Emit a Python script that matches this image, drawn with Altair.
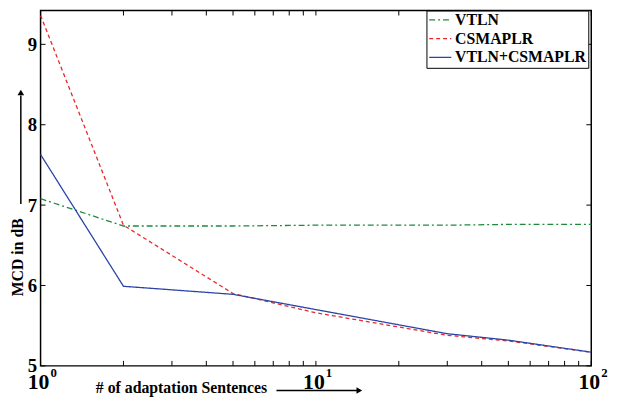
import altair as alt
import pandas as pd

# ---- data ----
sentences = [1, 2, 5, 10, 30, 50, 100]
vtln = [7.08, 6.74, 6.74, 6.75, 6.75, 6.76, 6.76]
csmaplr = [9.36, 6.75, 5.90, 5.66, 5.38, 5.31, 5.17]
vtln_csmaplr = [7.63, 5.99, 5.89, 5.70, 5.40, 5.32, 5.17]
series_names = ["VTLN", "CSMAPLR", "VTLN+CSMAPLR"]
series_colors = ["#1e8a3e", "#e8282c", "#2a44a6"]
series_dashes = [[6, 3, 2, 3], [4, 3], [1, 0]]

x_major = [1, 10, 100]
x_exp = ["0", "1", "2"]
x_minor = [2, 3, 4, 5, 6, 7, 8, 9, 20, 30, 40, 50, 60, 70, 80, 90]
y_ticks = [5, 6, 7, 8, 9]

W, H = 558, 360
FONT = "Liberation Serif"

rows = []
for name, vals in zip(series_names, [vtln, csmaplr, vtln_csmaplr]):
    for n, v in zip(sentences, vals):
        rows.append({"series": name, "n": n, "mcd": v})
df = pd.DataFrame(rows)

xscale = alt.Scale(type="log", domain=[1, 100], nice=False)
yscale = alt.Scale(domain=[5, 9.42], nice=False, zero=False)
yaxis = alt.Axis(values=y_ticks, ticks=False, domain=False, grid=False,
                 labelFont=FONT, labelFontWeight="bold", labelFontSize=19,
                 labelColor="black", labelPadding=4, title=None)

legend = alt.Legend(title=None, orient="none", legendX=391, legendY=0,
                    strokeColor="black", fillColor="white", padding=2,
                    labelFont=FONT, labelFontWeight="bold", labelFontSize=16,
                    labelColor="black", symbolType="stroke", symbolSize=500,
                    symbolStrokeWidth=1.3, rowPadding=2, labelOffset=3, clipHeight=15)

lines = alt.Chart(df).mark_line(strokeWidth=1.3).encode(
    x=alt.X("n:Q", scale=xscale, axis=None),
    y=alt.Y("mcd:Q", scale=yscale, axis=yaxis),
    color=alt.Color("series:N", scale=alt.Scale(domain=series_names, range=series_colors),
                    legend=legend, sort=series_names),
    strokeDash=alt.StrokeDash("series:N", scale=alt.Scale(domain=series_names, range=series_dashes),
                              legend=legend, sort=series_names),
)

xt = pd.DataFrame({"v": x_major + x_minor})
xt_bottom = alt.Chart(xt).mark_rule(color="black", strokeWidth=1).encode(
    x=alt.X("v:Q", scale=xscale, axis=None),
    y=alt.value(H), y2=alt.value(H - 5))
xt_top = alt.Chart(xt).mark_rule(color="black", strokeWidth=1).encode(
    x=alt.X("v:Q", scale=xscale, axis=None),
    y=alt.value(0), y2=alt.value(5))

yt = pd.DataFrame({"mcd": y_ticks})
yt_left = alt.Chart(yt).mark_rule(color="black", strokeWidth=1).encode(
    y=alt.Y("mcd:Q", scale=yscale, axis=yaxis), x=alt.value(0), x2=alt.value(5))
yt_right = alt.Chart(yt).mark_rule(color="black", strokeWidth=1).encode(
    y=alt.Y("mcd:Q", scale=yscale, axis=yaxis), x=alt.value(W), x2=alt.value(W - 5))

xl = pd.DataFrame({"v": x_major, "base": ["10"] * 3, "exp": x_exp})
xlab = alt.Chart(xl).mark_text(font=FONT, fontWeight="bold", fontSize=22, align="right",
                               dx=9, baseline="alphabetic", color="black").encode(
    x=alt.X("v:Q", scale=xscale, axis=None), y=alt.value(H + 23), text="base:N")
xexp = alt.Chart(xl).mark_text(font=FONT, fontWeight="bold", fontSize=13, align="left",
                               dx=10, baseline="alphabetic", color="black").encode(
    x=alt.X("v:Q", scale=xscale, axis=None), y=alt.value(H + 11), text="exp:N")

one = pd.DataFrame({"a": [0]})
xtitle = alt.Chart(one).mark_text(font=FONT, fontWeight="bold", fontSize=16, align="left",
                                  baseline="alphabetic", color="black",
                                  text="# of adaptation Sentences").encode(
    x=alt.value(56), y=alt.value(H + 28))
xarrow = alt.Chart(one).mark_rule(color="black", strokeWidth=1.5).encode(
    x=alt.value(239), x2=alt.value(321), y=alt.value(H + 25))
xhead = alt.Chart(one).mark_point(shape="triangle-right", filled=True, color="black",
                                  size=45, opacity=1).encode(
    x=alt.value(323), y=alt.value(H + 25))

ytitle = alt.Chart(one).mark_text(font=FONT, fontWeight="bold", fontSize=16, align="center",
                                  baseline="middle", angle=270, color="black",
                                  text="MCD in dB").encode(
    x=alt.value(-23), y=alt.value(250))
yarrow = alt.Chart(one).mark_rule(color="black", strokeWidth=1.5).encode(
    x=alt.value(-20), x2=alt.value(-20), y=alt.value(196), y2=alt.value(86))
yhead = alt.Chart(one).mark_point(shape="triangle-up", filled=True, color="black",
                                  size=45, opacity=1).encode(
    x=alt.value(-20), y=alt.value(83))

chart = alt.layer(
    lines, xt_bottom, xt_top, yt_left, yt_right, xlab, xexp,
    xtitle, xarrow, xhead, ytitle, yarrow, yhead
).properties(
    width=W, height=H,
    autosize=alt.AutoSizeParams(type="none"),
    padding={"left": 33, "top": 0, "right": 20, "bottom": 34},
).configure_view(stroke="black", strokeWidth=1.5)

chart.save("out.html", embed_options={"renderer": "svg", "actions": False})
